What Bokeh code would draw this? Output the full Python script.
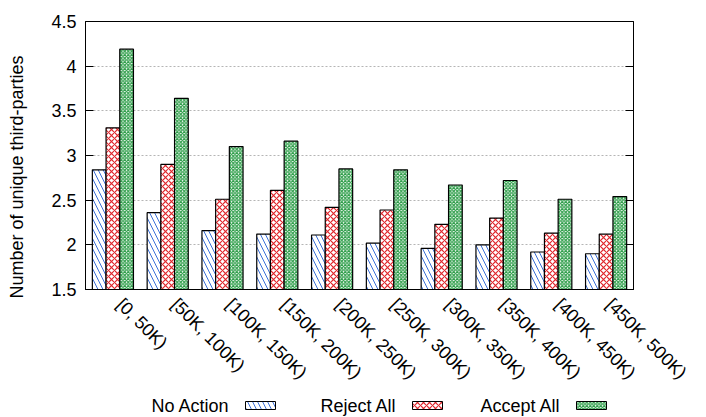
import math
from bokeh.plotting import figure
from bokeh.models import ColumnDataSource, Range1d, LinearAxis, FixedTicker, Title
from bokeh.layouts import column
from bokeh.embed import file_html
from bokeh.resources import INLINE
from bokeh.core.properties import value

# ---- data ----
categories = ["[0, 50K)", "[50K, 100K)", "[100K, 150K)", "[150K, 200K)", "[200K, 250K)",
              "[250K, 300K)", "[300K, 350K)", "[350K, 400K)", "[400K, 450K)", "[450K, 500K)"]
no_action = [2.84, 2.36, 2.16, 2.12, 2.11, 2.02, 1.96, 2.00, 1.92, 1.90]
reject_all = [3.31, 2.90, 2.51, 2.61, 2.42, 2.39, 2.23, 2.30, 2.13, 2.12]
accept_all = [4.19, 3.64, 3.10, 3.16, 2.85, 2.84, 2.67, 2.72, 2.51, 2.54]
series_names = ["No Action", "Reject All", "Accept All"]
y_ticks = [1.5, 2, 2.5, 3, 3.5, 4, 4.5]
y_label = "Number of unique third-parties"

FONT = "Liberation Sans"
FS = "18px"

styles = [
    dict(hatch_pattern="\\", hatch_color="#3a6fd8", hatch_scale=10, hatch_weight=1.0),
    dict(hatch_pattern="x", hatch_color="#e0262c", hatch_scale=6, hatch_weight=1.2),
    dict(hatch_pattern="x", hatch_color="#2f9e4a", hatch_scale=3.5, hatch_weight=1.3),
]

n = len(categories)
centers = [i + 0.5 for i in range(n)]
bar_w = 0.25
offsets = [-bar_w, 0.0, bar_w]
series = [no_action, reject_all, accept_all]

FW, FH = 548, 268
p = figure(x_range=Range1d(0, n), y_range=Range1d(1.5, 4.5),
           frame_width=FW, frame_height=FH, output_backend="svg", toolbar_location=None,
           min_border_left=85, min_border_right=57, min_border_top=21, min_border_bottom=104)

for vals, off, st in zip(series, offsets, styles):
    src = ColumnDataSource(dict(x=[c + off for c in centers], top=vals))
    p.vbar(x="x", top="top", bottom=0, width=bar_w, source=src,
           fill_color="white", line_color="black", line_width=1.2, **st)

p.outline_line_color = "black"
p.outline_line_width = 1
p.xgrid.grid_line_color = None
p.ygrid.ticker = FixedTicker(ticks=y_ticks)
p.ygrid.grid_line_color = "#b5b5b5"
p.ygrid.grid_line_dash = "2 2"
p.ygrid.grid_line_width = 1

ya = p.yaxis[0]
ya.ticker = FixedTicker(ticks=y_ticks)
ya.major_label_overrides = {t: f"{t:g}" for t in y_ticks}
ya.major_tick_in = 8
ya.major_tick_out = 0
ya.minor_tick_line_color = None
ya.axis_line_color = "black"
ya.major_tick_line_color = "black"
ya.major_label_text_font = FONT
ya.major_label_text_font_size = FS
ya.major_label_text_color = "black"
ya.major_label_standoff = 9

# spacer axis (one invisible white tick, no label) that pushes the side title outward
spacer_tick = 3
spacer = LinearAxis(ticker=FixedTicker(ticks=[spacer_tick]), major_tick_out=22, major_tick_in=0,
                    major_label_standoff=0, major_label_text_font_size="0px",
                    major_label_overrides={spacer_tick: ""},
                    axis_line_color=None, major_tick_line_color="white",
                    minor_tick_line_color=None)
p.add_layout(spacer, "left")
p.add_layout(Title(text=y_label, align="left", offset=-9, standoff=0, text_font=FONT,
                   text_font_size=FS, text_font_style="normal", text_color="black"), "left")

ra_axis = LinearAxis(ticker=FixedTicker(ticks=y_ticks), major_tick_in=8, major_tick_out=0,
                     minor_tick_line_color=None, major_label_text_color=None,
                     major_label_text_font_size="8px", axis_line_color="black")
p.add_layout(ra_axis, "right")

label_shift = 0.125
label_ticks = [c + label_shift for c in centers]
xa = p.xaxis[0]
xa.ticker = FixedTicker(ticks=label_ticks)
xa.major_label_overrides = {t: c for t, c in zip(label_ticks, categories)}
xa.major_tick_line_color = None
xa.minor_tick_line_color = None
xa.axis_line_color = "black"
xa.major_label_orientation = -math.pi / 4
xa.major_label_text_font = FONT
xa.major_label_text_font_size = FS
xa.major_label_text_color = "black"
xa.major_label_standoff = 6

# ---- legend strip (text, then swatch) ----
LH = 24
lg = figure(frame_width=FW, frame_height=LH, x_range=Range1d(0, FW), y_range=Range1d(0, LH),
            x_axis_type=None, y_axis_type=None, output_backend="svg", toolbar_location=None,
            min_border_left=85, min_border_right=57, min_border_top=0, min_border_bottom=0)
lg.grid.visible = False
lg.outline_line_color = None
text_ends = [144, 311, 475]
sw_w, sw_h, gap = 30, 8, 16
ymid = 12
for name, xe, st in zip(series_names, text_ends, styles):
    lg.text(x=[xe], y=[ymid], text=[name], text_align="right", text_baseline="middle",
            text_font=value(FONT), text_font_size=FS, text_color="black")
    lg.rect(x=[xe + gap + sw_w / 2], y=[ymid], width=sw_w, height=sw_h,
            fill_color="white", line_color="black", line_width=1, **st)

layout = column(p, lg, spacing=0)
open("out.html", "w").write(file_html(layout, INLINE))
